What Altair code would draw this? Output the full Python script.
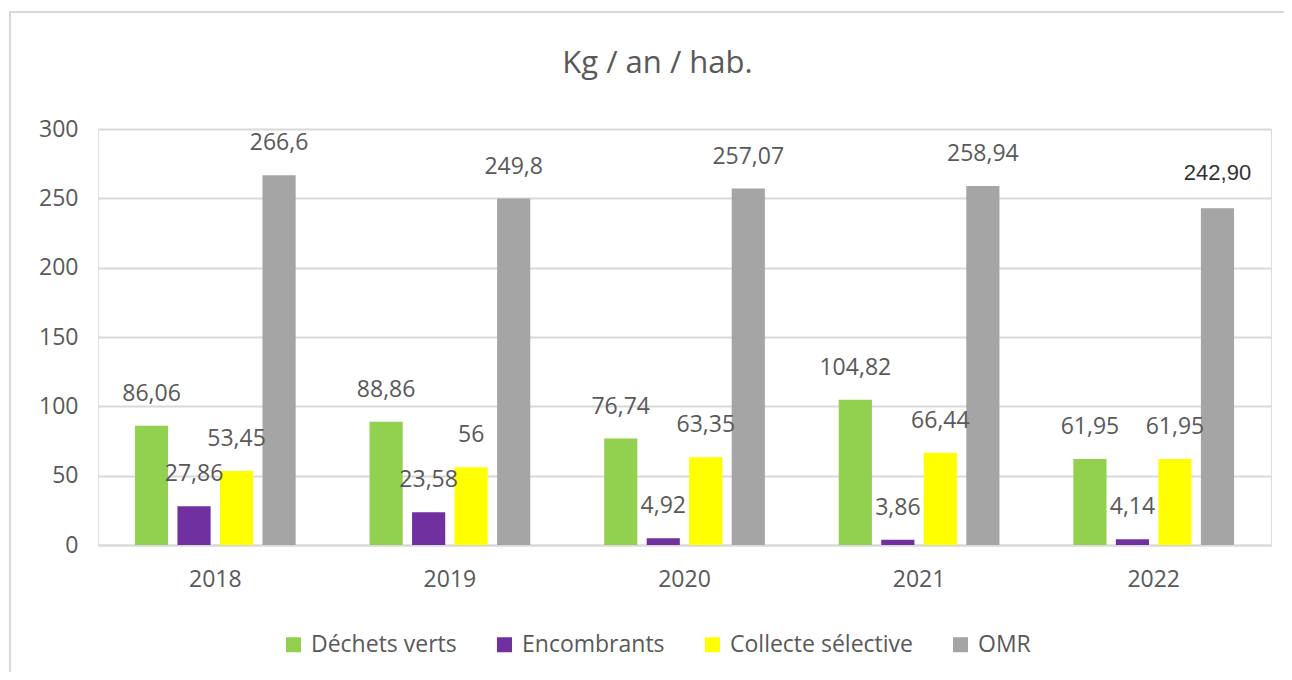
import altair as alt
import pandas as pd

years = ["2018", "2019", "2020", "2021", "2022"]
series = ["Déchets verts", "Encombrants", "Collecte sélective", "OMR"]
colors = ["#92D050", "#7030A0", "#FFFF00", "#A5A5A5"]

dechets_verts = [86.06, 88.86, 76.74, 104.82, 61.95]
encombrants = [27.86, 23.58, 4.92, 3.86, 4.14]
collecte = [53.45, 56, 63.35, 66.44, 61.95]
omr = [266.6, 249.8, 257.07, 258.94, 242.90]

labels_dv = ["86,06", "88,86", "76,74", "104,82", "61,95"]
labels_enc = ["27,86", "23,58", "4,92", "3,86", "4,14"]
labels_col = ["53,45", "56", "63,35", "66,44", "61,95"]
labels_omr = ["266,6", "249,8", "257,07", "258,94", "242,90"]

rows = []
for s, vals, labs in zip(series, [dechets_verts, encombrants, collecte, omr],
                         [labels_dv, labels_enc, labels_col, labels_omr]):
    for y, v, l in zip(years, vals, labs):
        alt_font = (s == "OMR" and y == "2022")
        rows.append({"Année": y, "Série": s, "Valeur": v, "Label": l, "alt": alt_font})
df = pd.DataFrame(rows)

FONT = "Open Sans"
GREY = "#595959"

x = alt.X("Année:N", title=None,
          scale=alt.Scale(paddingInner=0.315, paddingOuter=0.1575),
          axis=alt.Axis(labelAngle=0, labelFontSize=23, labelFont=FONT, labelColor=GREY,
                        ticks=False, tickSize=0, labelPadding=34, labelBaseline="middle",
                        domainColor="#D9D9D9", domainWidth=2, grid=False))
xoff = alt.XOffset("Série:N", sort=series,
                   scale=alt.Scale(paddingInner=0.22, paddingOuter=0))
y = alt.Y("Valeur:Q", title=None,
          scale=alt.Scale(domain=[0, 300], nice=False),
          axis=alt.Axis(values=[0, 50, 100, 150, 200, 250, 300], labelFontSize=23,
                        labelFont=FONT, labelColor=GREY, domain=False, ticks=False,
                        tickSize=0, labelPadding=20, gridColor="#D9D9D9", gridWidth=2))

base = alt.Chart(df)
one = "datum.Année == '2018' && datum['Série'] == 'OMR'"

border_top = base.mark_rule(stroke="#D9D9D9", strokeWidth=2).encode(
    x=alt.value(-88), x2=alt.value(1186), y=alt.value(-117)
).transform_filter(one)
border_left = base.mark_rule(stroke="#D9D9D9", strokeWidth=2).encode(
    x=alt.value(-88), y=alt.value(-118), y2=alt.value(543)
).transform_filter(one)

bars = base.mark_bar().encode(
    x=x, xOffset=xoff, y=y,
    color=alt.Color("Série:N", sort=series,
                    scale=alt.Scale(domain=series, range=colors),
                    legend=alt.Legend(title=None, orient="none", direction="horizontal",
                                      legendX=184, legendY=504, symbolType="square",
                                      symbolSize=225, symbolStrokeWidth=0,
                                      labelFontSize=23, labelFont=FONT, labelColor=GREY,
                                      labelOffset=6, columnPadding=36, padding=0,
                                      labelLimit=400)),
)

text_main = base.mark_text(fontSize=23, font=FONT, color=GREY, baseline="middle",
                           dy=-32).encode(
    x=x, xOffset=xoff, y=y, text="Label:N"
).transform_filter("!datum.alt")

text_alt = base.mark_text(fontSize=22, font="Liberation Sans", color="#333333",
                          baseline="middle", dy=-35).encode(
    x=x, xOffset=xoff, y=y, text="Label:N"
).transform_filter("datum.alt")

chart = alt.layer(border_top, border_left, bars, text_main, text_alt).properties(
    width=1173, height=416,
    title=alt.TitleParams("Kg / an / hab.", fontSize=31, font=FONT, color=GREY,
                          fontWeight="normal", anchor="middle", frame="group",
                          baseline="alphabetic", offset=0, dy=94, dx=-27),
    autosize=alt.AutoSizeParams(type="none"),
    padding={"left": 90, "top": 121, "right": 13, "bottom": 127},
).configure_view(stroke=None).configure(background="white")

chart.save("out.html", embed_options={"renderer": "svg", "actions": False})
